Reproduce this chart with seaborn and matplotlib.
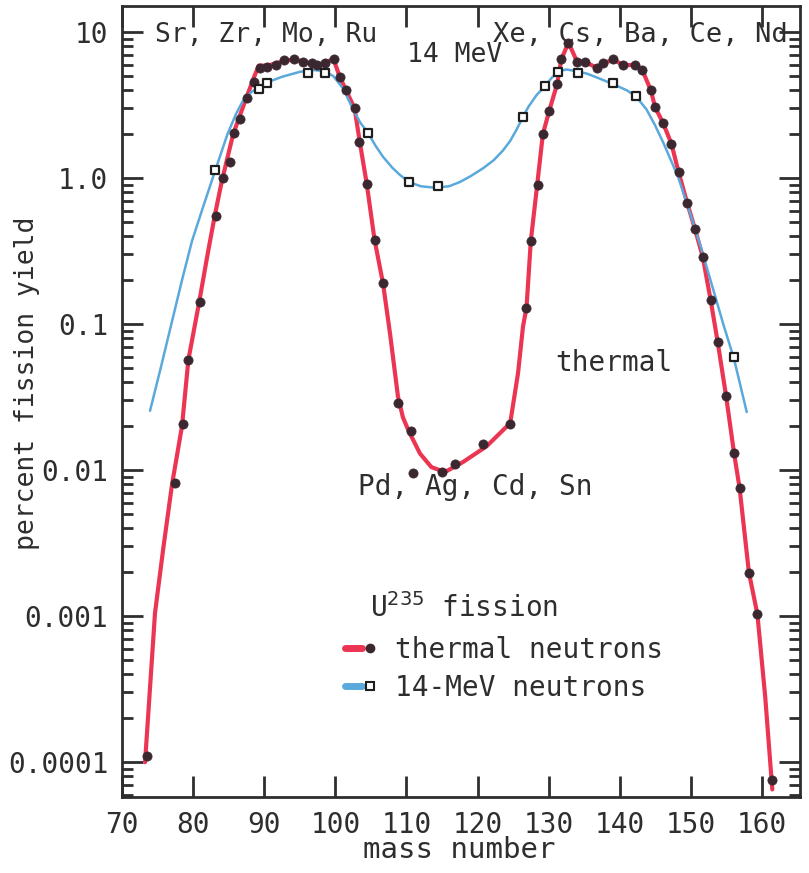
import matplotlib
matplotlib.use("Agg")
import matplotlib.pyplot as plt
from matplotlib.legend_handler import HandlerTuple
from matplotlib.lines import Line2D
from matplotlib.ticker import LogLocator, NullFormatter, NullLocator
import pandas as pd
import seaborn as sns

# thermal neutron fission yields (dots)
thermal_mass = [73.5, 77.4, 78.5, 79.2, 80.9, 83.2, 84.2, 85.1, 85.7, 86.6, 87.5, 88.5,
                89.4, 90.3, 91.7, 92.7, 94.1, 95.5, 96.7, 97.4, 98.5, 99.8, 100.6, 101.5,
                102.7, 103.3, 104.4, 105.5, 106.7, 108.8, 110.6, 110.9, 115.0, 116.8,
                120.8, 124.6, 126.8, 127.5, 128.5, 129.2, 130.1, 131.2, 131.8, 132.8,
                134.0, 135.2, 136.8, 137.7, 139.1, 140.5, 142.2, 143.2, 144.4, 145.0,
                146.1, 147.3, 148.3, 149.5, 150.6, 151.7, 152.8, 153.8, 155.0, 156.1,
                156.9, 158.2, 159.4, 161.5]
thermal_yield = [1.1e-4, 0.0082, 0.0206, 0.057, 0.142, 0.55, 1.0, 1.29, 2.04, 2.54, 3.55, 4.57,
                 5.7, 5.8, 5.94, 6.4, 6.5, 6.26, 6.1, 5.94, 6.1, 6.5, 4.94, 4.0,
                 3.0, 1.77, 0.91, 0.375, 0.19, 0.029, 0.0186, 0.0095, 0.0097, 0.011,
                 0.0151, 0.0207, 0.13, 0.372, 0.896, 2.0, 2.89, 4.4, 6.6, 8.4,
                 6.26, 6.26, 5.64, 6.1, 6.5, 5.94, 5.94, 5.5, 4.0, 3.06,
                 2.4, 1.72, 1.10, 0.68, 0.45, 0.288, 0.147, 0.076, 0.032, 0.0132,
                 0.0075, 0.00196, 0.00103, 7.5e-5]

# the smooth thermal curve
thermal_curve_mass = [73.2, 74.6, 75.8, 77.0, 78.4, 79.3, 80.8, 82.0, 83.0, 84.0, 85.6, 87.5,
                      88.6, 89.2, 90.5, 92.0, 94.0, 95.5, 97.2, 98.5, 99.7, 100.6, 101.5,
                      102.7, 103.4, 104.4, 105.5, 106.7, 107.7, 108.8, 109.5, 110.3, 111.9,
                      113.5, 115.4, 118.0, 121.3, 124.6, 125.7, 126.4, 126.9, 127.5, 128.4,
                      129.2, 130.1, 131.2, 131.8, 132.8, 134.0, 135.3, 136.8, 137.7, 139.1,
                      140.5, 142.2, 143.2, 144.4, 145.0, 146.1, 147.3, 148.3, 149.5, 150.6,
                      151.7, 152.8, 153.8, 155.0, 156.1, 156.9, 158.2, 159.4, 160.5, 161.5]
thermal_curve_yield = [1.0e-4, 1.05e-3, 3.0e-3, 8.0e-3, 0.020, 0.057, 0.14, 0.30, 0.55, 0.95, 2.0, 3.6,
                       5.0, 5.9, 5.9, 6.2, 6.5, 6.3, 5.95, 6.1, 6.6, 4.95, 4.0,
                       3.0, 1.8, 0.92, 0.38, 0.19, 0.085, 0.032, 0.023, 0.0186, 0.013,
                       0.0105, 0.0097, 0.0114, 0.0146, 0.021, 0.046, 0.096, 0.13, 0.37, 0.9,
                       2.0, 2.9, 4.4, 6.5, 8.5, 6.3, 6.2, 5.7, 6.1, 6.5,
                       5.95, 5.95, 5.5, 4.0, 3.06, 2.4, 1.72, 1.10, 0.68, 0.45,
                       0.29, 0.148, 0.076, 0.032, 0.0132, 0.0075, 0.002, 0.00103, 2.8e-4, 6.5e-5]

# 14-MeV neutron yields (squares)
mev_mass = [83.1, 89.2, 90.4, 96.2, 98.5, 104.6, 110.4, 114.5, 126.4, 129.5, 131.4,
            134.1, 139.1, 142.3, 156.1]
mev_yield = [1.13, 4.05, 4.45, 5.26, 5.26, 2.04, 0.94, 0.88, 2.63, 4.27, 5.35,
             5.23, 4.45, 3.64, 0.06]

# the smooth 14-MeV curve
mev_curve_mass = [73.9, 75.4, 76.9, 78.4, 79.8, 81.3, 83.0, 84.8, 86.0, 87.0, 88.2, 89.2,
                  90.5, 92.5, 95.0, 97.0, 98.5, 99.7, 101.1, 102.5, 103.5, 104.6, 105.6,
                  106.7, 108.0, 109.1, 110.4, 112.0, 114.0, 116.0, 117.5, 119.0, 120.8,
                  122.3, 123.6, 124.6, 125.5, 126.4, 127.2, 128.3, 129.5, 130.5, 131.5,
                  132.5, 134.0, 135.4, 137.0, 139.1, 141.0, 142.3, 143.8, 145.0, 146.2,
                  147.3, 148.3, 149.9, 151.5, 153.0, 154.6, 156.1, 157.9]
mev_curve_yield = [0.0255, 0.05, 0.1, 0.2, 0.37, 0.62, 1.1, 2.0, 2.75, 3.4, 3.9, 4.2,
                   4.55, 4.95, 5.35, 5.5, 5.4, 5.0, 4.1, 2.95, 2.4, 2.04, 1.68,
                   1.40, 1.18, 1.05, 0.94, 0.88, 0.86, 0.88, 0.94, 1.03, 1.17,
                   1.33, 1.55, 1.8, 2.15, 2.63, 3.1, 3.7, 4.27, 4.9, 5.4,
                   5.55, 5.4, 5.2, 4.85, 4.4, 4.0, 3.64, 2.95, 2.3, 1.73,
                   1.3, 1.0, 0.58, 0.33, 0.185, 0.1, 0.058, 0.025]

x_ticks = [70, 80, 90, 100, 110, 120, 130, 140, 150, 160]
y_ticks = [1e-4, 1e-3, 1e-2, 0.1, 1.0, 10.0]
y_tick_labels = ["0.0001", "0.001", "0.01", "0.1", "1.0", "10"]

RED = "#ec3552"
BLUE = "#5aa9dc"
DOT = "#3b2730"
INK = "#2e2e2e"

sns.set_theme(style="ticks")
plt.rcParams["font.family"] = ["DejaVu Sans Mono", "DejaVu Sans"]
plt.rcParams["text.color"] = INK
plt.rcParams["axes.labelcolor"] = INK

fig = plt.figure(figsize=(8.09, 8.73), dpi=100)
ax = fig.add_axes([0.1512, 0.0874, 0.8377, 0.9057])

thermal_curve = pd.DataFrame({"mass": thermal_curve_mass, "yield": thermal_curve_yield})
mev_curve = pd.DataFrame({"mass": mev_curve_mass, "yield": mev_curve_yield})
thermal = pd.DataFrame({"mass": thermal_mass, "yield": thermal_yield})
mev = pd.DataFrame({"mass": mev_mass, "yield": mev_yield})

sns.lineplot(data=thermal_curve, x="mass", y="yield", sort=False, estimator=None,
             color=RED, linewidth=3, ax=ax)
sns.lineplot(data=mev_curve, x="mass", y="yield", sort=False, estimator=None,
             color=BLUE, linewidth=1.8, ax=ax)
sns.scatterplot(data=thermal, x="mass", y="yield", marker="o", s=44,
                color=DOT, edgecolor=DOT, linewidth=0.5, ax=ax, zorder=4)
sns.scatterplot(data=mev, x="mass", y="yield", marker="s", s=38,
                facecolor="white", edgecolor="#1e1e1e", linewidth=1.6, ax=ax, zorder=5)

ax.set_yscale("log")
ax.set_xlim(70, 165.4)
ax.set_ylim(5.8e-5, 15.1)

ax.set_xticks(x_ticks, [str(v) for v in x_ticks])
ax.set_yticks(y_ticks, y_tick_labels)
ax.xaxis.set_minor_locator(NullLocator())
ax.yaxis.set_minor_locator(LogLocator(base=10, subs=range(2, 10)))
ax.yaxis.set_minor_formatter(NullFormatter())
ax.tick_params(which="both", direction="in", top=True, right=True, color=INK, width=2)
ax.tick_params(which="major", length=15, labelsize=20, pad=10, labelcolor=INK)
ax.tick_params(which="minor", length=8)
for sp in ax.spines.values():
    sp.set_color(INK)
    sp.set_linewidth(2)

ax.set_xlabel("mass number", fontsize=21)
ax.set_ylabel("percent fission yield", fontsize=19)
ax.xaxis.set_label_coords(0.497, -0.05)
ax.yaxis.set_label_coords(-0.121, 0.523)

# element labels and notes
ax.text(74.6, 8.6, "Sr, Zr, Mo, Ru", fontsize=19, va="baseline")
ax.text(110.1, 6.27, "14 MeV", fontsize=19, va="baseline")
ax.text(122.2, 8.6, "Xe, Cs, Ba, Ce, Nd", fontsize=19.5, va="baseline")
ax.text(130.9, 0.0478, "thermal", fontsize=20, va="baseline")
ax.text(103.2, 0.00675, "Pd, Ag, Cd, Sn", fontsize=20, va="baseline", zorder=3)
ax.text(104.9, 0.00099, r"U$^{235}$ fission", fontsize=20, va="baseline")

thermal_handle = (Line2D([], [], color=RED, linewidth=5),
                  Line2D([], [], linestyle="", marker="o", color=DOT, markersize=6))
mev_handle = (Line2D([], [], color=BLUE, linewidth=5),
              Line2D([], [], linestyle="", marker="s", markerfacecolor="white",
                     markeredgecolor="#1e1e1e", markersize=6, markeredgewidth=1.5))
ax.legend([thermal_handle, mev_handle], ["thermal neutrons", "14-MeV neutrons"],
          handler_map={tuple: HandlerTuple(ndivide=None, pad=0)},
          loc="upper left", bbox_to_anchor=(0.3286, 0.203), frameon=False,
          fontsize=20, labelcolor=INK, handlelength=1.2, handletextpad=0.6,
          labelspacing=0.35, borderpad=0, borderaxespad=0)

fig.savefig("out.png", dpi=100, facecolor="white")
